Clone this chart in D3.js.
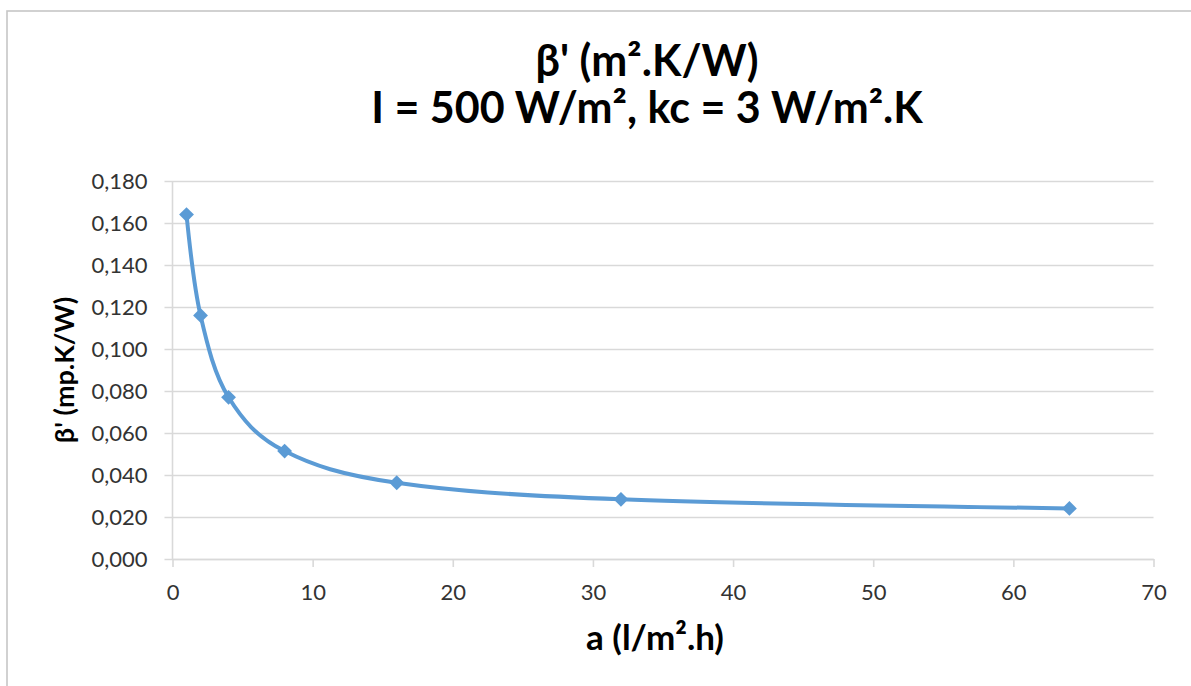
<!DOCTYPE html>
<html>
<head>
<meta charset="utf-8">
<script src="https://cdn.jsdelivr.net/npm/d3@7"></script>
<style>
  html, body { margin: 0; padding: 0; background: #fff; }
  svg { display: block; }
  text { font-family: Lato, "Open Sans", "DejaVu Sans", sans-serif; }
</style>
</head>
<body>
<svg id="chart" width="1191" height="686"></svg>
<script>
// Flow rate a (l/m².h) and resulting β' (m².K/W)
const flowRates = [1, 2, 4, 8, 16, 32, 64];
const betaValues = [0.164, 0.116, 0.077, 0.0514, 0.0363, 0.0284, 0.0241];
const xTicks = [0, 10, 20, 30, 40, 50, 60, 70];
const yTicks = [0, 0.02, 0.04, 0.06, 0.08, 0.10, 0.12, 0.14, 0.16, 0.18];
const titleLines = ["β' (m².K/W)", "I = 500 W/m², kc = 3 W/m².K"];
const xTitle = "a (l/m².h)";
const yTitle = "β' (mp.K/W)";

const svg = d3.select("#chart");
const W = 1191, H = 686;
const plot = { left: 172.5, right: 1153.5, top: 181, bottom: 559 };

svg.append("rect").attr("width", W).attr("height", H).attr("fill", "#fff");
// outer chart frame
svg.append("rect")
  .attr("x", 7).attr("y", 11).attr("width", 1220).attr("height", 720)
  .attr("fill", "none").attr("stroke", "#c6c6c6").attr("stroke-width", 1.6);

const x = d3.scaleLinear().domain([0, 70]).range([plot.left, plot.right]);
const y = d3.scaleLinear().domain([0, 0.18]).range([plot.bottom, plot.top]);

const fmt = v => d3.format(".3f")(v).replace(".", ",");
const gridColor = "#d9d9d9";
const labelColor = "#333333";

// horizontal grid lines + y axis
const yAxis = d3.axisLeft(y).tickValues(yTicks).tickFormat(fmt)
  .tickSize(-(plot.right - plot.left)).tickPadding(25);
const gy = svg.append("g").attr("transform", `translate(${plot.left},0)`).call(yAxis);
gy.select(".domain").remove();
gy.selectAll(".tick line")
  .attr("x1", -8)
  .attr("stroke", gridColor).attr("stroke-width", 1.6);
gy.selectAll(".tick text")
  .attr("font-size", 22).attr("fill", labelColor)
  .style("font-family", "Lato, sans-serif");

// x axis
const xAxis = d3.axisBottom(x).tickValues(xTicks).tickFormat(d3.format("d"))
  .tickSize(8).tickSizeOuter(0).tickPadding(17);
const gx = svg.append("g").attr("transform", `translate(0,${plot.bottom})`).call(xAxis);
gx.select(".domain").attr("stroke", gridColor).attr("stroke-width", 1.6);
gx.selectAll(".tick line").attr("stroke", gridColor).attr("stroke-width", 1.6);
gx.selectAll(".tick text")
  .attr("font-size", 22).attr("fill", labelColor)
  .style("font-family", "Lato, sans-serif");

// vertical axis line
svg.append("line")
  .attr("x1", plot.left).attr("x2", plot.left)
  .attr("y1", plot.top).attr("y2", plot.bottom)
  .attr("stroke", gridColor).attr("stroke-width", 1.6);

// smoothed series line
const data = flowRates.map((a, i) => ({ a, b: betaValues[i] }));
const line = d3.line()
  .x(d => x(d.a)).y(d => y(d.b))
  .curve(d3.curveCardinal.tension(0));
const blue = "#5b9bd5";
svg.append("path").datum(data)
  .attr("d", line).attr("fill", "none")
  .attr("stroke", blue).attr("stroke-width", 4)
  .attr("stroke-linejoin", "round").attr("stroke-linecap", "round");

// diamond markers
const diamond = d3.symbol().type(d3.symbolDiamond2).size(140);
svg.append("g").selectAll("path").data(data).join("path")
  .attr("transform", d => `translate(${x(d.a)},${y(d.b)})`)
  .attr("d", diamond).attr("fill", blue);

// titles
svg.append("g").selectAll("text").data(titleLines).join("text")
  .attr("x", 647).attr("y", (d, i) => 76 + i * 47)
  .attr("text-anchor", "middle")
  .attr("font-size", 43).attr("font-weight", 700).attr("fill", "#000")
  .text(d => d);

svg.append("text")
  .attr("x", 655).attr("y", 650)
  .attr("text-anchor", "middle")
  .attr("font-size", 35).attr("font-weight", 700).attr("fill", "#000")
  .text(xTitle);

svg.append("text")
  .attr("transform", "translate(74,370) rotate(-90)")
  .attr("text-anchor", "middle")
  .attr("font-size", 27).attr("font-weight", 700).attr("fill", "#000")
  .text(yTitle);
</script>
</body>
</html>
